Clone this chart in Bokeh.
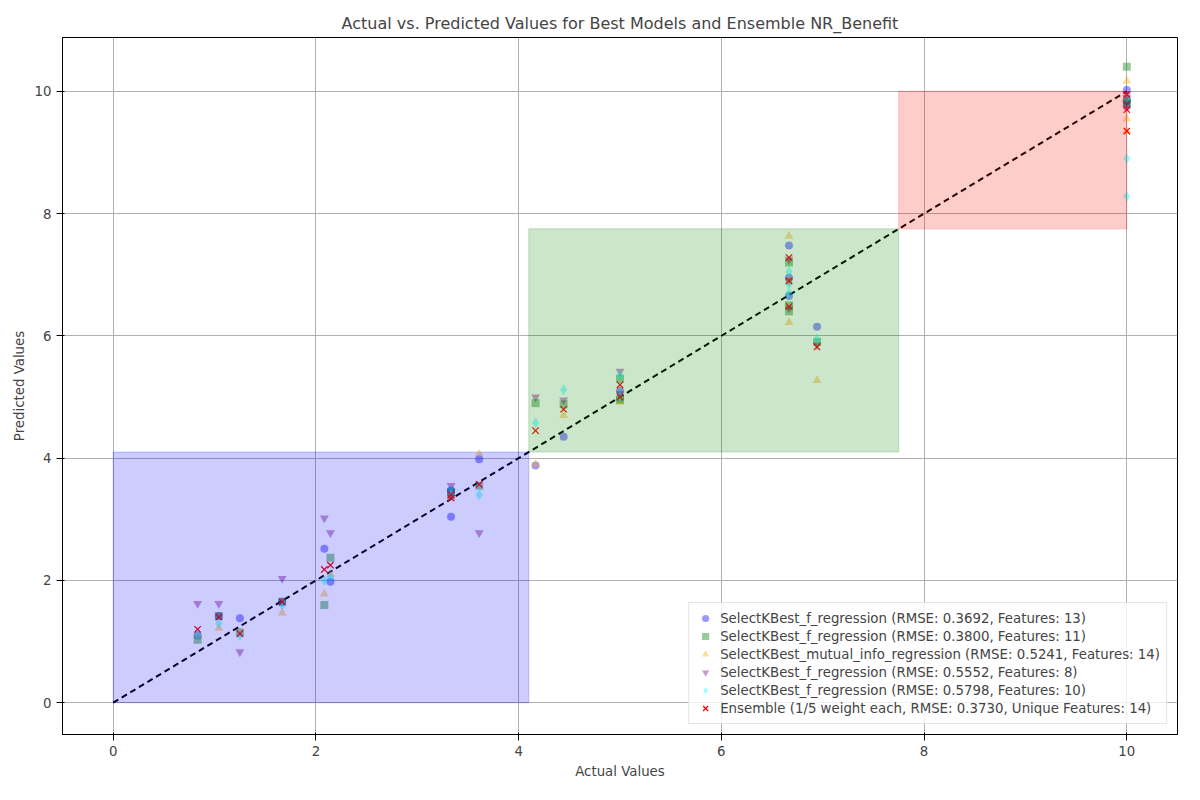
from bokeh.plotting import figure
from bokeh.models import BoxAnnotation, Range1d, FixedTicker
from bokeh.embed import file_html
from bokeh.resources import INLINE

actual = [0.833, 1.042, 1.25, 1.667, 2.083, 2.143, 3.333, 3.333, 3.611, 4.167, 4.444, 5.0, 5.0,
          6.667, 6.667, 6.667, 6.944, 10, 10, 10]
pred_m1 = [1.10, 1.42, 1.38, 1.65, 2.52, 1.98, 3.04, 3.47, 3.98, 3.88, 4.35, 5.10, 4.98, 7.48, 6.65, 6.95, 6.15, 10.02, 9.75, 9.85]
pred_m2 = [1.03, 1.42, 1.15, 1.65, 1.60, 2.37, 3.45, 3.40, 3.55, 4.90, 4.88, 5.30, 4.95, 7.20, 6.40, 6.50, 5.90, 10.40, 9.85, 9.80]
pred_m3 = [1.10, 1.22, 1.15, 1.47, 1.78, 2.10, 3.35, 3.40, 4.07, 3.90, 4.70, 4.92, 5.00, 7.63, 6.22, 6.90, 5.27, 10.17, 9.55, 9.35]
pred_m4 = [1.62, 1.62, 0.83, 2.03, 3.02, 2.78, 3.55, 3.45, 2.78, 5.00, 4.95, 5.42, 5.05, 7.25, 6.90, 6.45, 5.85, 9.90, 9.80, 9.95]
pred_m5 = [1.10, 1.30, 1.10, 1.60, 2.00, 2.05, 3.40, 3.45, 3.40, 4.58, 5.12, 5.35, 5.00, 7.05, 6.85, 6.70, 5.95, 8.90, 8.28, 9.90]
pred_ens = [1.20, 1.40, 1.13, 1.65, 2.18, 2.25, 3.35, 3.40, 3.57, 4.45, 4.80, 5.20, 5.00, 7.28, 6.90, 6.48, 5.82, 9.95, 9.70, 9.35]

labels = [
    "SelectKBest_f_regression (RMSE: 0.3692, Features: 13)",
    "SelectKBest_f_regression (RMSE: 0.3800, Features: 11)",
    "SelectKBest_mutual_info_regression (RMSE: 0.5241, Features: 14)",
    "SelectKBest_f_regression (RMSE: 0.5552, Features: 8)",
    "SelectKBest_f_regression (RMSE: 0.5798, Features: 10)",
    "Ensemble (1/5 weight each, RMSE: 0.3730, Unique Features: 14)",
]
zones = [(0, 4.1, "blue"), (4.1, 7.75, "green"), (7.75, 10, "red")]

p = figure(width=1184, height=784, output_backend="svg", toolbar_location=None,
           title="Actual vs. Predicted Values for Best Models and Ensemble NR_Benefit",
           x_range=Range1d(-0.5, 10.5), y_range=Range1d(-0.52, 10.88),
           min_border_left=62, min_border_right=7, min_border_top=37, min_border_bottom=50)
p.title.align = "center"
p.title.text_font = "DejaVu Sans"
p.title.text_font_size = "12pt"
p.title.text_font_style = "normal"
p.xaxis.axis_label = "Actual Values"
p.yaxis.axis_label = "Predicted Values"
for ax in (p.xaxis[0], p.yaxis[0]):
    ax.axis_label_text_font = "DejaVu Sans"
    ax.axis_label_text_font_style = "normal"
    ax.axis_label_text_font_size = "10pt"
    ax.major_label_text_font = "DejaVu Sans"
    ax.major_label_text_font_size = "10pt"
    ax.minor_tick_line_color = None
    ax.ticker = FixedTicker(ticks=[0, 2, 4, 6, 8, 10])
p.grid.grid_line_color = "#b0b0b0"
p.outline_line_color = "black"

for lo, hi, c in zones:
    p.add_layout(BoxAnnotation(left=lo, right=hi, bottom=lo, top=hi, fill_color=c,
                               fill_alpha=0.2, line_color=c, line_alpha=0.2))

p.line([0, 10], [0, 10], line_color="black", line_width=2, line_dash="6 4")

p.scatter(actual, pred_m1, marker="circle", size=8, fill_color="blue", line_color=None, fill_alpha=0.4, legend_label=labels[0])
p.scatter(actual, pred_m2, marker="square", size=8, fill_color="green", line_color=None, fill_alpha=0.4, legend_label=labels[1])
p.scatter(actual, pred_m3, marker="triangle", size=9, fill_color="orange", line_color=None, fill_alpha=0.4, legend_label=labels[2])
p.scatter(actual, pred_m4, marker="inverted_triangle", size=9, fill_color="purple", line_color=None, fill_alpha=0.4, legend_label=labels[3])
p.scatter(actual, pred_m5, marker="diamond", size=11, fill_color="cyan", line_color=None, fill_alpha=0.4, legend_label=labels[4])
p.scatter(actual, pred_ens, marker="x", size=9, line_color="red", line_width=1.2, legend_label=labels[5])

p.legend.location = "bottom_right"
p.legend.label_text_font = "DejaVu Sans"
p.legend.label_text_font_size = "10pt"
p.legend.spacing = 0
p.legend.padding = 6
p.legend.glyph_height = 18
p.legend.label_height = 18
p.legend.border_line_color = "#cccccc"
p.legend.background_fill_alpha = 0.8

open("out.html", "w").write(file_html(p, INLINE))
